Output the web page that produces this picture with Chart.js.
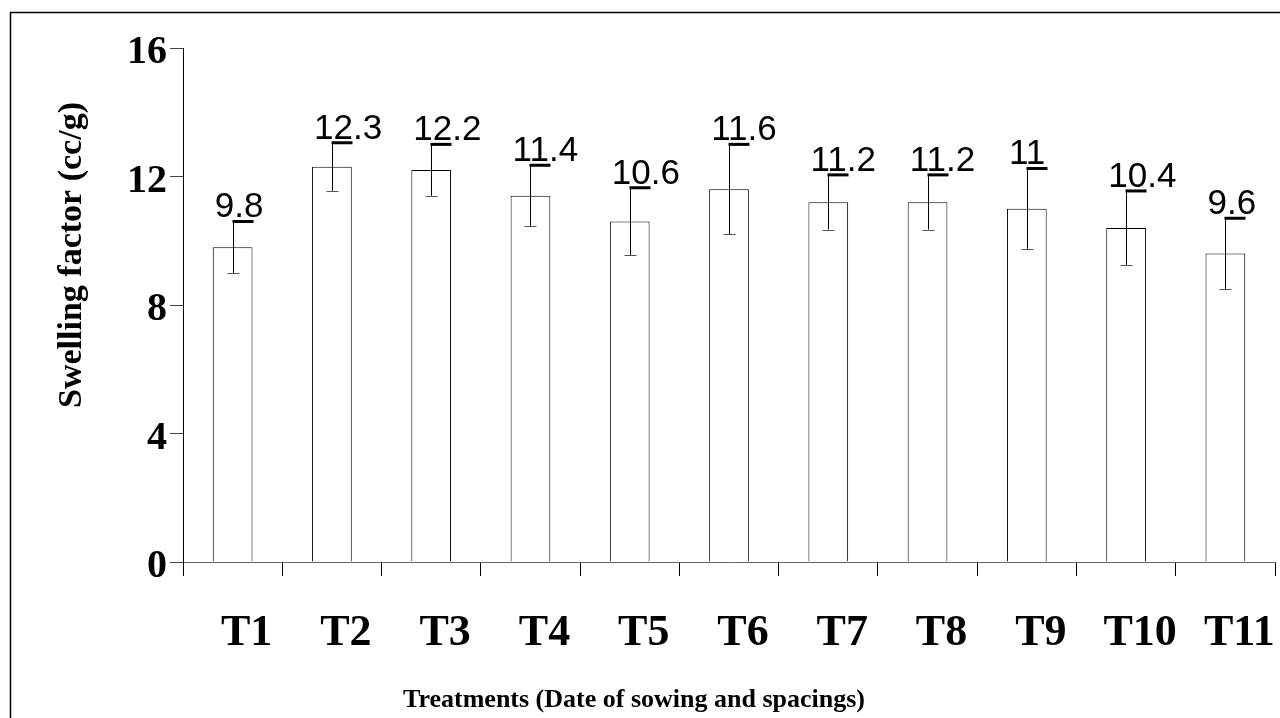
<!DOCTYPE html>
<html>
<head>
<meta charset="utf-8">
<title>Swelling factor by treatment</title>
<script src="https://cdn.jsdelivr.net/npm/chart.js@4/dist/chart.umd.min.js"></script>
<style>
  html, body { margin: 0; padding: 0; background: #fff; }
  canvas { display: block; }
</style>
</head>
<body>
<canvas id="chart" width="1280" height="718"></canvas>
<script>
// Treatments and measured swelling factor (cc/g) with their error margins
const treatments = ['T1', 'T2', 'T3', 'T4', 'T5', 'T6', 'T7', 'T8', 'T9', 'T10', 'T11'];
const swelling = [9.8, 12.3, 12.2, 11.4, 10.6, 11.6, 11.2, 11.2, 11, 10.4, 9.6];
const swellingError = [0.8, 0.75, 0.8, 0.95, 1.05, 1.4, 0.85, 0.85, 1.25, 1.15, 1.1];
const yTickValues = [0, 4, 8, 12, 16];

const yTitle = 'Swelling factor (cc/g)';
const xTitle = 'Treatments (Date of sowing and spacings)';

const SERIF = '"Liberation Serif", "Times New Roman", "DejaVu Serif", serif';
const SANS = '"Liberation Sans", Arial, "DejaVu Sans", sans-serif';

// White page with a frame line along the top and left edges
const framePlugin = {
  id: 'frame',
  beforeDraw(chart) {
    const ctx = chart.ctx;
    ctx.save();
    ctx.fillStyle = '#ffffff';
    ctx.fillRect(0, 0, chart.width, chart.height);
    ctx.strokeStyle = '#000000';
    ctx.lineWidth = 1.5;
    ctx.beginPath();
    ctx.moveTo(10.5, chart.height);
    ctx.lineTo(10.5, 12.5);
    ctx.lineTo(chart.width, 12.5);
    ctx.stroke();
    ctx.restore();
  }
};

// Error bars and value labels above each bar
const errorLabelPlugin = {
  id: 'errorLabels',
  afterDatasetsDraw(chart) {
    const ctx = chart.ctx;
    const yScale = chart.scales.y;
    const meta = chart.getDatasetMeta(0);
    ctx.save();
    meta.data.forEach((bar, i) => {
      const v = swelling[i];
      const e = swellingError[i];
      const x = Math.round(bar.x) + 0.5;
      const yTop = yScale.getPixelForValue(v + e);
      const yBot = yScale.getPixelForValue(v - e);

      // vertical whisker
      ctx.strokeStyle = '#000000';
      ctx.lineWidth = 1;
      ctx.beginPath();
      ctx.moveTo(x, yTop);
      ctx.lineTo(x, yBot);
      ctx.stroke();

      // lower cap
      ctx.strokeStyle = '#555555';
      ctx.beginPath();
      ctx.moveTo(x - 6, Math.round(yBot) + 0.5);
      ctx.lineTo(x + 6, Math.round(yBot) + 0.5);
      ctx.stroke();

      // upper cap
      ctx.strokeStyle = '#000000';
      ctx.lineWidth = 3;
      ctx.beginPath();
      ctx.moveTo(x - 1, yTop);
      ctx.lineTo(x + 20, yTop);
      ctx.stroke();

      // value label
      const left = bar.x - bar.width / 2 + 2;
      ctx.fillStyle = '#000000';
      ctx.font = '35px ' + SANS;
      ctx.textAlign = 'left';
      ctx.textBaseline = 'alphabetic';
      ctx.fillText(String(v), left, yTop - 4);
    });
    ctx.restore();
  }
};

// Axis titles
const axisTitlePlugin = {
  id: 'axisTitles',
  afterDraw(chart) {
    const ctx = chart.ctx;
    ctx.save();
    ctx.fillStyle = '#000000';
    ctx.textAlign = 'center';
    ctx.textBaseline = 'middle';

    ctx.font = 'bold 34px ' + SERIF;
    ctx.translate(72, 255);
    ctx.rotate(-Math.PI / 2);
    ctx.fillText(yTitle, 0, 0);
    ctx.setTransform(1, 0, 0, 1, 0, 0);

    ctx.font = 'bold 26px ' + SERIF;
    ctx.fillText(xTitle, 634, 700);
    ctx.restore();
  }
};

new Chart(document.getElementById('chart'), {
  type: 'bar',
  data: {
    labels: treatments,
    datasets: [{
      data: swelling,
      backgroundColor: '#ffffff',
      borderColor: '#000000',
      borderWidth: 1,
      barPercentage: 0.4,
      categoryPercentage: 1.0
    }]
  },
  options: {
    responsive: false,
    animation: false,
    devicePixelRatio: 1,
    layout: { padding: { left: 10, right: 5, top: 48, bottom: 0 } },
    plugins: {
      legend: { display: false },
      tooltip: { enabled: false }
    },
    scales: {
      x: {
        type: 'category',
        offset: true,
        afterFit(scale) {
          scale.height = 156;
          scale.paddingLeft = 0;
          scale.paddingRight = 0;
        },
        border: { display: true, color: '#666666', width: 1 },
        grid: {
          offset: true,
          drawOnChartArea: false,
          drawTicks: true,
          tickLength: 14,
          color: '#000000',
          tickColor: '#000000'
        },
        ticks: {
          color: '#000000',
          font: { family: SERIF, size: 44, weight: 'bold' },
          padding: 31,
          labelOffset: 14,
          maxRotation: 0,
          autoSkip: false
        }
      },
      y: {
        min: 0,
        max: 16,
        afterFit(scale) {
          scale.width = 173;
          scale.paddingTop = 0;
          scale.paddingBottom = 0;
        },
        afterBuildTicks(scale) { scale.ticks = yTickValues.map(v => ({ value: v })); },
        border: { display: true, color: '#000000', width: 1 },
        grid: {
          drawOnChartArea: false,
          drawTicks: true,
          tickLength: 13,
          tickColor: '#444444'
        },
        ticks: {
          color: '#000000',
          font: { family: SERIF, size: 40, weight: 'bold' },
          padding: 3,
          labelOffset: 5
        }
      }
    }
  },
  plugins: [framePlugin, errorLabelPlugin, axisTitlePlugin]
});
</script>
</body>
</html>
